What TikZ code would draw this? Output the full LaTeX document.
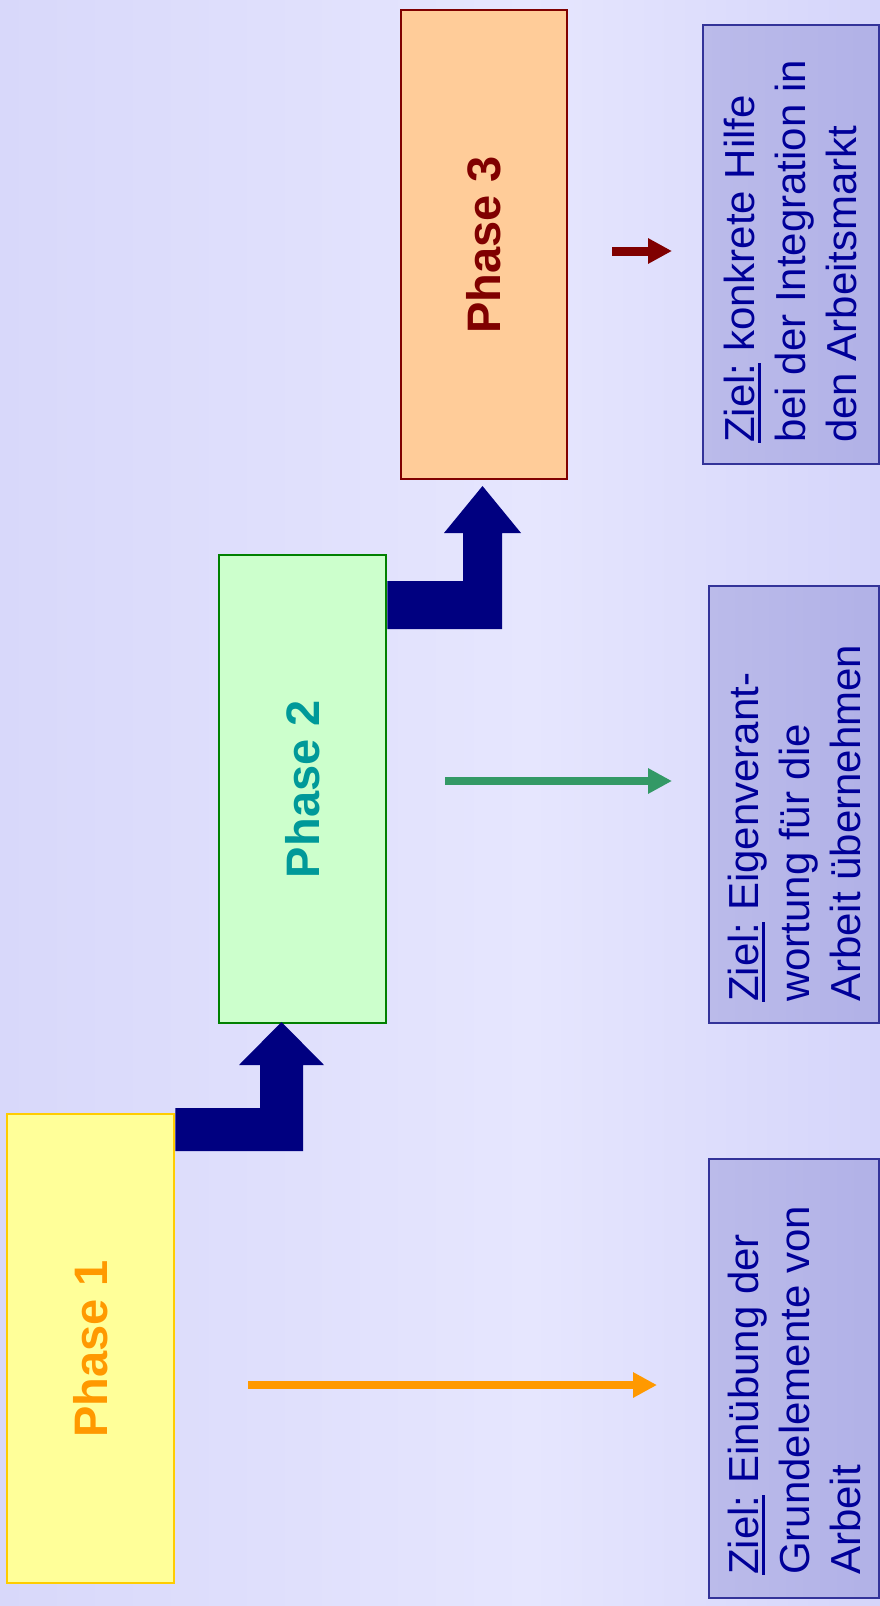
\documentclass[tikz,border=0pt]{standalone}
\usepackage{fontspec}
\setmainfont{Liberation Sans}
\usetikzlibrary{arrows.meta}

\definecolor{bgedge}{HTML}{D8D8FA}
\definecolor{bgmid}{HTML}{E6E6FE}
\definecolor{bgright}{HTML}{D5D5FA}
\definecolor{goalfillA}{HTML}{BBBBEA}
\definecolor{goalfillB}{HTML}{B1B1E7}
\definecolor{goalline}{HTML}{333399}
\definecolor{goaltext}{HTML}{000099}
\definecolor{navyarrow}{HTML}{000080}
\definecolor{ponefill}{HTML}{FFFF99}
\definecolor{poneline}{HTML}{FFCC00}
\definecolor{ponetext}{HTML}{FF9900}
\definecolor{ptwofill}{HTML}{CCFFCC}
\definecolor{ptwoline}{HTML}{008000}
\definecolor{ptwotext}{HTML}{009999}
\definecolor{pthreefill}{HTML}{FFCC99}
\definecolor{pthreeline}{HTML}{800000}
\definecolor{pthreetext}{HTML}{800000}
\definecolor{greenarrow}{HTML}{339966}

% underline used for the word "Ziel:"
\newcommand\zielmark[1]{\setbox0\hbox{#1}\rlap{\rule[-6.5pt]{\wd0}{2.8pt}}\box0\relax}

\tikzset{
  phasebox/.style={draw, line width=2.4pt, inner sep=0, anchor=north west},
  phaselabel/.style={rotate=90, inner sep=0, font=\fontsize{47}{56}\selectfont\bfseries},
  goalbox/.style={draw=goalline, line width=2.4pt, inner sep=0, anchor=north west,
                  left color=goalfillA, right color=goalfillB},
  goaltextstyle/.style={rotate=90, inner sep=0, anchor=north west, align=left,
                  text=goaltext, font=\fontsize{42}{51}\selectfont},
  goalarrow/.style={line width=8pt, -{Triangle[length=24pt,width=24pt]}},
  blockarrow/.style={fill=navyarrow, draw=none},
}

\begin{document}
\begin{tikzpicture}[x=1pt,y=-1pt]
  \useasboundingbox (0,0) rectangle (880,1606);
  % background with lighter middle
  \shade[left color=bgedge, right color=bgmid] (0,0) rectangle (530,1606);
  \shade[left color=bgmid, right color=bgright] (530,0) rectangle (880,1606);

  % phase boxes
  \node[phasebox, draw=pthreeline, fill=pthreefill, minimum width=166pt, minimum height=469pt] (p3) at (400,9) {};
  \node[phasebox, draw=ptwoline, fill=ptwofill, minimum width=167pt, minimum height=468pt] (p2) at (218,554) {};
  \node[phasebox, draw=poneline, fill=ponefill, minimum width=167pt, minimum height=469pt] (p1) at (6,1113) {};

  \node[phaselabel, text=pthreetext] (l3) at (p3.center) {Phase 3};
  \node[phaselabel, text=ptwotext] (l2) at (p2.center) {Phase 2};
  \node[phaselabel, text=ponetext] (l1) at (p1.center) {Phase 1};

  % goal boxes
  \node[goalbox, minimum width=176pt, minimum height=439pt] (g3) at (702,24) {};
  \node[goalbox, minimum width=170pt, minimum height=437pt] (g2) at (708,585) {};
  \node[goalbox, minimum width=170pt, minimum height=439pt] (g1) at (708,1158) {};

  \node[goaltextstyle] (t3) at (724,443) {\zielmark{Ziel:} konkrete Hilfe\\bei der Integration in\\den Arbeitsmarkt};
  \node[goaltextstyle] (t2) at (728,1002) {\zielmark{Ziel:} Eigenverant-\\wortung für die\\Arbeit übernehmen};
  \node[goaltextstyle] (t1) at (728,1575) {\zielmark{Ziel:} Einübung der\\Grundelemente von\\Arbeit};

  % step arrows between the phases
  \fill[blockarrow] (p1.east |- 0,1108) -- (260,1108) -- (260,1065) -- (239,1065)
        -- (281.5,1022) -- (324,1065) -- (303,1065) -- (303,1151) -- (p1.east |- 0,1151) -- cycle;
  \fill[blockarrow] (p2.east |- 0,581) -- (463,581) -- (463,533) -- (444,533)
        -- (482.5,486) -- (521,533) -- (502,533) -- (502,629) -- (p2.east |- 0,629) -- cycle;

  % arrows towards the goals
  \coordinate (a1s) at (248,1385);
  \coordinate (a1e) at (657,1385);
  \coordinate (a2s) at (445,781);
  \coordinate (a2e) at (672,781);
  \coordinate (a3s) at (612,251);
  \coordinate (a3e) at (672,251);
  \draw[goalarrow, draw=ponetext, fill=ponetext] (a1s) -- (a1e);
  \draw[goalarrow, draw=greenarrow, fill=greenarrow] (a2s) -- (a2e);
  \draw[goalarrow, line width=9pt, draw=pthreeline, fill=pthreeline] (a3s) -- (a3e);
\end{tikzpicture}
\end{document}
